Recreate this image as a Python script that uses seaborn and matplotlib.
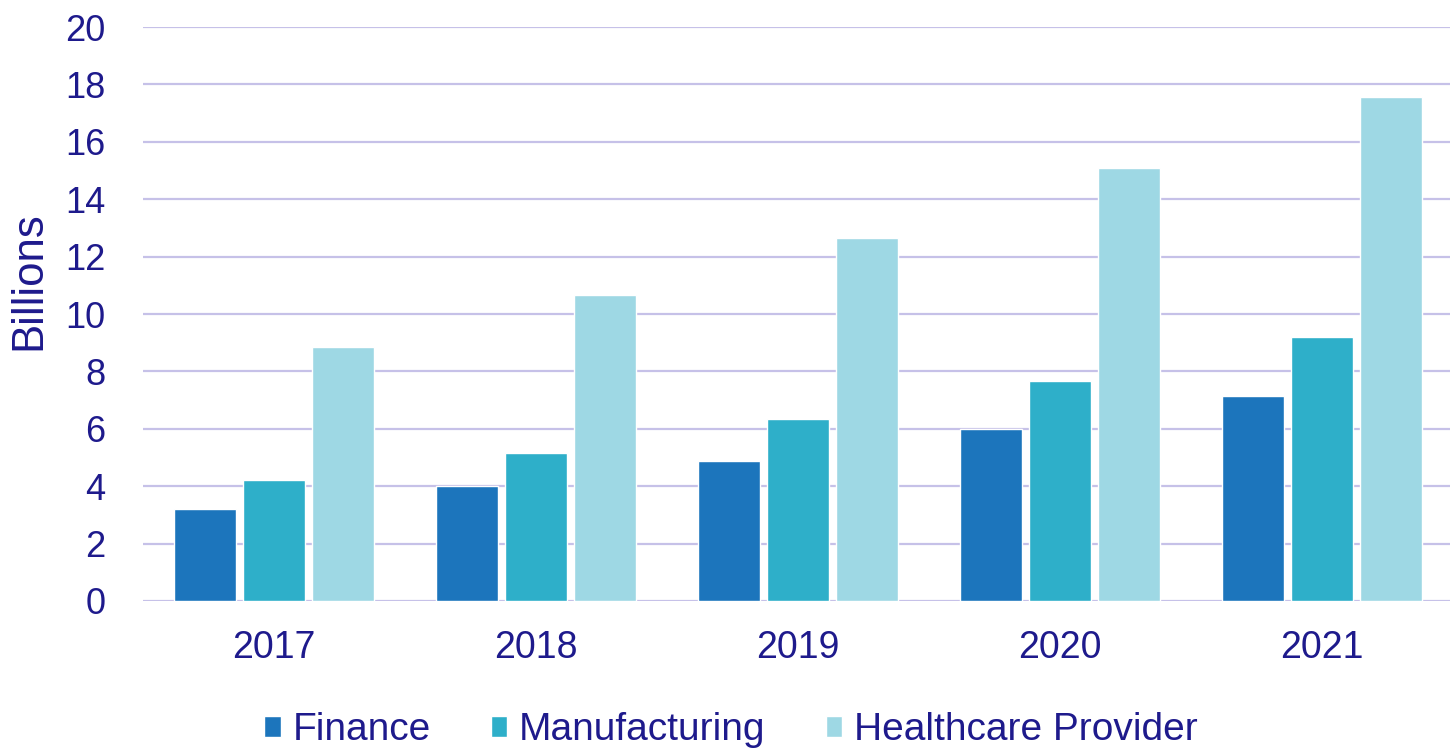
import matplotlib
matplotlib.use("Agg")
import matplotlib.pyplot as plt
import seaborn as sns
import pandas as pd

years = ["2017", "2018", "2019", "2020", "2021"]
finance = [3.2, 4.0, 4.88, 5.99, 7.14]
manufacturing = [4.2, 5.15, 6.34, 7.67, 9.2]
healthcare = [8.85, 10.66, 12.65, 15.09, 17.56]
series_names = ["Finance", "Manufacturing", "Healthcare Provider"]
colors = ["#1C75BC", "#2EAFC9", "#9ED8E4"]
yticks = [0, 2, 4, 6, 8, 10, 12, 14, 16, 18, 20]

rows = []
for name, vals in zip(series_names, [finance, manufacturing, healthcare]):
    for y, v in zip(years, vals):
        rows.append({"Year": y, "Sector": name, "Value": v})
df = pd.DataFrame(rows)

sns.set_theme(style="white")
plt.rcParams["font.family"] = ["Liberation Sans", "DejaVu Sans"]
text_color = "#1E1A8C"
grid_color = "#C6C1E8"

fig = plt.figure(figsize=(14.5, 7.52), dpi=100)
ax = fig.add_axes([0.0986, 0.2008, 0.9034, 0.7632])

sns.barplot(data=df, x="Year", y="Value", hue="Sector", order=years,
            hue_order=series_names, palette=colors, width=0.79, gap=0.09,
            saturation=1, ax=ax, legend=True)

ax.set_xlim(-0.5, 4.5)
ax.set_ylim(0, 20)
ax.set_yticks(yticks)
ax.set_yticklabels([str(t) for t in yticks])
ax.yaxis.grid(True, color=grid_color, linewidth=1.6)
ax.set_axisbelow(True)
for s in ax.spines.values():
    s.set_visible(False)
ax.tick_params(axis="y", length=0, pad=27, labelsize=26, labelcolor=text_color)
ax.tick_params(axis="x", length=0, pad=21, labelsize=27, labelcolor=text_color)
ax.set_xlabel("")
ax.set_ylabel("Billions", fontsize=31.5, color=text_color)
ax.yaxis.set_label_coords(-0.0715, 0.559)

handles, labels = ax.get_legend_handles_labels()
ax.get_legend().remove()
fig.legend(handles, labels, loc="center", bbox_to_anchor=(0.504, 0.029),
           ncol=3, frameon=False, fontsize=28, handlelength=0.42,
           handleheight=0.47, handletextpad=0.3, columnspacing=1.55,
           labelcolor=text_color, borderpad=0)

fig.savefig("out.png", dpi=100, facecolor="white")
